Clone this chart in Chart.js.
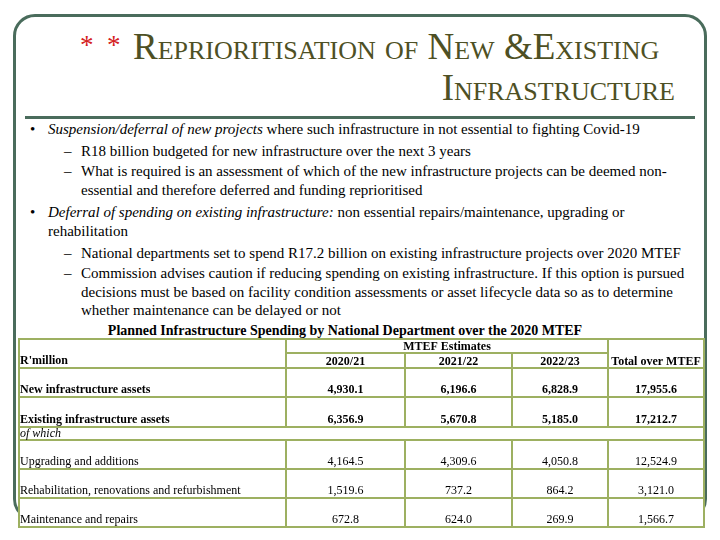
<!DOCTYPE html>
<html>
<head>
<meta charset="utf-8">
<script src="https://cdn.jsdelivr.net/npm/chart.js@4.4.0/dist/chart.umd.min.js"></script>
<style>
  body { margin: 0; width: 720px; height: 540px; background: #fff; position: relative; overflow: hidden;
         font-family: "Liberation Serif", "Times New Roman", serif; }
  .frame { position: absolute; left: 13px; top: 14px; width: 688px; height: 501px;
           border: 3px solid #4a6c5c; border-radius: 22px; }
  .rule { position: absolute; left: 25px; top: 116px; width: 670px; height: 3px; background: #4a6c5c; }
  .ttl { position: absolute; font-size: 37px; line-height: 37px; font-variant: small-caps; color: #4e5024; white-space: nowrap; }
  .ast { position: absolute; left: 80px; top: 32px; font-size: 27px; line-height: 27px; color: #d42020; white-space: pre; }
  .ln { position: absolute; font-size: 15px; line-height: 19px; white-space: nowrap; color: #000; }
  .mk { position: absolute; font-size: 15px; line-height: 19px; }
  .cap { position: absolute; left: 0; width: 690px; text-align: center; top: 321px; font-size: 14px; line-height: 19px; font-weight: bold; }
  canvas { position: absolute; left: 0; top: 0; }
</style>
</head>
<body>
<div class="frame"></div>
<div class="rule"></div>
<div class="ast">*  *</div>
<div class="ttl" style="left:133px; top:28px;">Reprioritisation of New &amp;Existing</div>
<div class="ttl" style="right:45px; top:69px;">Infrastructure</div>

<div class="mk" style="left:30px; top:120px;">&bull;</div>
<div class="ln" style="left:48px; top:120px;"><i>Suspension/deferral of new projects</i> where such infrastructure in not essential to fighting Covid-19</div>
<div class="mk" style="left:64px; top:142px;">&ndash;</div>
<div class="ln" style="left:81px; top:142px;">R18 billion budgeted for new infrastructure over the next 3 years</div>
<div class="mk" style="left:64px; top:162px;">&ndash;</div>
<div class="ln" style="left:81px; top:162px;">What is required is an assessment of which of the new infrastructure projects can be deemed non-</div>
<div class="ln" style="left:81px; top:181px;">essential and therefore deferred and funding reprioritised</div>
<div class="mk" style="left:30px; top:203px;">&bull;</div>
<div class="ln" style="left:48px; top:203px;"><i>Deferral of spending on existing infrastructure:</i> non essential repairs/maintenance, upgrading or</div>
<div class="ln" style="left:48px; top:222px;">rehabilitation</div>
<div class="mk" style="left:64px; top:244px;">&ndash;</div>
<div class="ln" style="left:81px; top:244px;">National departments set to spend R17.2 billion on existing infrastructure projects over 2020 MTEF</div>
<div class="mk" style="left:64px; top:264px;">&ndash;</div>
<div class="ln" style="left:81px; top:264px;">Commission advises caution if reducing spending on existing infrastructure. If this option is pursued</div>
<div class="ln" style="left:81px; top:283px;">decisions must be based on facility condition assessments or asset lifecycle data so as to determine</div>
<div class="ln" style="left:81px; top:301px;">whether maintenance can be delayed or not</div>
<div class="cap">Planned Infrastructure Spending by National Department over the 2020 MTEF</div>

<canvas id="tableChart" width="720" height="540"></canvas>

<script>
// table data
var rowLabels = ['New infrastructure assets', 'Existing infrastructure assets', 'Upgrading and additions',
                 'Rehabilitation, renovations and refurbishment', 'Maintenance and repairs'];
var boldRows = [true, true, false, false, false];
var years = ['2020/21', '2021/22', '2022/23'];
var est2020 = [4930.1, 6356.9, 4164.5, 1519.6, 672.8];
var est2021 = [6196.6, 5670.8, 4309.6, 737.2, 624.0];
var est2022 = [6828.9, 5185.0, 4050.8, 864.2, 269.9];
var totals = [17955.6, 17212.7, 12524.9, 3121.0, 1566.7];
var unitLabel = "R'million";
var groupLabel = 'MTEF Estimates';
var totalLabel = 'Total over MTEF';
var subLabel = 'of which';

// table grid (page pixels)
var colEdges = [19, 286, 405, 512, 608, 704];
var tableTop = 339, headMid = 353, headBottom = 368;
var rowBottoms = [397, 427, 469, 498, 527];
var subTop = 427, subBottom = 440;
var lineColor = '#9db061';
var serif = '"Liberation Serif", "Times New Roman", serif';

function colCenter(c) { return (colEdges[c] + colEdges[c + 1]) / 2; }
function fmt(v) { return v.toLocaleString('en-US', {minimumFractionDigits: 1, maximumFractionDigits: 1}); }
function column(values, c) {
  return values.map(function(v, i) { return {x: colCenter(c), y: rowBottoms[i] - 4}; });
}

var columns = [est2020, est2021, est2022, totals];

var tablePlugin = {
  id: 'tablePlugin',
  beforeDraw: function(chart) {
    var a = chart.chartArea, ctx = chart.ctx;
    ctx.save();
    ctx.fillStyle = '#ffffff';
    ctx.fillRect(a.left, a.top, a.right - a.left, a.bottom - a.top);
    ctx.restore();
  },
  afterDatasetsDraw: function(chart) {
    var ctx = chart.ctx, xs = chart.scales.x, ys = chart.scales.y;
    var X = function(v) { return xs.getPixelForValue(v); };
    var Y = function(v) { return ys.getPixelForValue(v); };
    ctx.save();
    ctx.strokeStyle = lineColor;
    ctx.lineWidth = 2;
    function line(x1, y1, x2, y2) {
      ctx.beginPath(); ctx.moveTo(X(x1), Y(y1)); ctx.lineTo(X(x2), Y(y2)); ctx.stroke();
    }
    var L = colEdges[0], R = colEdges[colEdges.length - 1], B = rowBottoms[rowBottoms.length - 1];
    ctx.strokeRect(X(L), Y(tableTop), X(R) - X(L), Y(B) - Y(tableTop));
    line(colEdges[1], headMid, colEdges[4], headMid);
    [headBottom, subTop, subBottom].concat(rowBottoms.slice(0, -1)).forEach(function(y) { line(L, y, R, y); });
    [1, 4].forEach(function(c) { line(colEdges[c], tableTop, colEdges[c], subTop); line(colEdges[c], subBottom, colEdges[c], B); });
    [2, 3].forEach(function(c) { line(colEdges[c], headMid, colEdges[c], subTop); line(colEdges[c], subBottom, colEdges[c], B); });

    ctx.fillStyle = '#000';
    ctx.textBaseline = 'alphabetic';
    ctx.font = 'bold 12px ' + serif;
    ctx.textAlign = 'left';
    ctx.fillText(unitLabel, X(L) + 1, Y(headBottom) - 4);
    ctx.textAlign = 'center';
    ctx.fillText(groupLabel, (X(colEdges[1]) + X(colEdges[4])) / 2, Y(headMid) - 3);
    years.forEach(function(yr, c) { ctx.fillText(yr, X(colCenter(c + 1)), Y(headBottom) - 3); });
    ctx.fillText(totalLabel, X(colCenter(4)), Y(headBottom) - 3);

    ctx.textAlign = 'left';
    rowLabels.forEach(function(lbl, i) {
      ctx.font = (boldRows[i] ? 'bold ' : '') + '12px ' + serif;
      ctx.fillText(lbl, X(L) + 1, Y(rowBottoms[i]) - 4);
    });
    ctx.font = 'italic 12px ' + serif;
    ctx.fillText(subLabel, X(L) + 1, Y(subBottom) - 3);

    ctx.textAlign = 'center';
    chart.data.datasets.forEach(function(ds, d) {
      chart.getDatasetMeta(d).data.forEach(function(pt, i) {
        ctx.font = (boldRows[i] ? 'bold ' : '') + '12px ' + serif;
        ctx.fillText(fmt(columns[d][i]), pt.x, pt.y);
      });
    });
    ctx.restore();
  }
};

var tablechart = document.getElementById('tableChart');

let tableChart = new Chart(tablechart, {
  type: 'scatter',
  data: {
    datasets: columns.map(function(vals, c) {
      return { label: c < 3 ? years[c] : totalLabel, data: column(vals, c + 1), pointRadius: 0, showLine: false };
    })
  },
  options: {
    responsive: false,
    animation: false,
    layout: { padding: { left: 19, right: 16, top: 339, bottom: 13 } },
    scales: {
      x: { type: 'linear', min: 19, max: 704, display: false },
      y: { type: 'linear', min: 339, max: 527, reverse: true, display: false }
    },
    plugins: { legend: { display: false }, tooltip: { enabled: false } }
  },
  plugins: [tablePlugin]
});
</script>
</body>
</html>
